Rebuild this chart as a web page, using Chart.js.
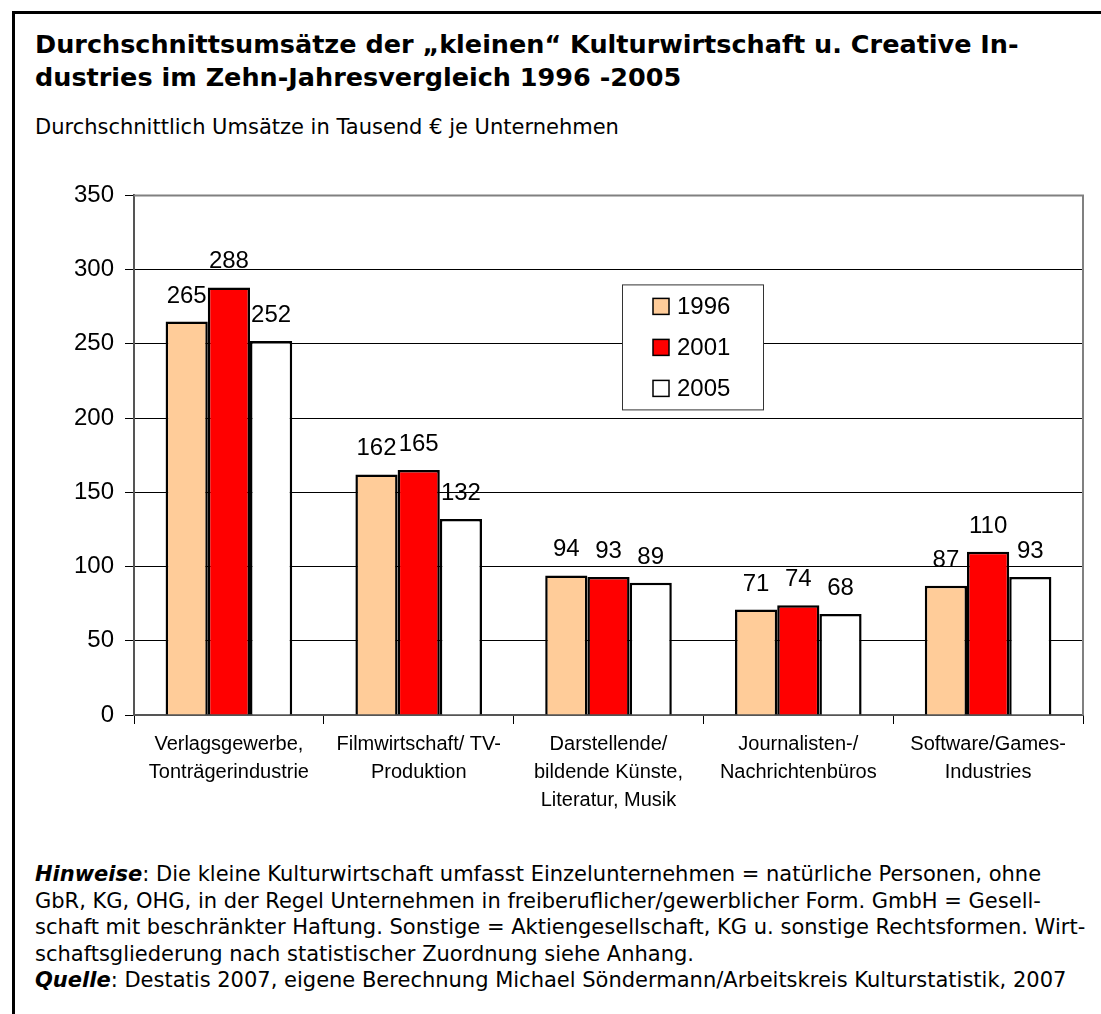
<!DOCTYPE html>
<html lang="de">
<head>
<meta charset="utf-8">
<title>Durchschnittsumsätze Kulturwirtschaft</title>
<script src="https://cdn.jsdelivr.net/npm/chart.js@4/dist/chart.umd.min.js"></script>
<style>
    body { margin: 0; background: #fff; width: 1101px; height: 1014px; overflow: hidden; position: relative; }
    .frame { position: absolute; left: 12px; top: 11px; width: 1200px; height: 1100px; border-top: 3px solid #000; border-left: 3px solid #000; }
    .txt { position: absolute; left: 35px; font-family: "DejaVu Sans", sans-serif; color: #000; white-space: nowrap; }
    #title { top: 28px; font-size: 25.5px; font-weight: bold; line-height: 33px; }
    #subtitle { top: 115px; font-size: 21px; }
    #notes { top: 861px; font-size: 21px; line-height: 26.5px; }
    #chartBox { position: absolute; left: 0; top: 170px; }
</style>
</head>
<body>
<div class="frame"></div>
<div class="txt" id="title">Durchschnittsumsätze der „kleinen“ Kulturwirtschaft u. Creative In-<br>dustries im Zehn-Jahresvergleich 1996 -2005</div>
<div class="txt" id="subtitle">Durchschnittlich Umsätze in Tausend € je Unternehmen</div>
<div id="chartBox"><canvas id="umsatzChart" width="1101" height="655"></canvas></div>
<div class="txt" id="notes">
    <b><i>Hinweise</i></b>: Die kleine Kulturwirtschaft umfasst Einzelunternehmen = natürliche Personen, ohne<br>
    GbR, KG, OHG, in der Regel Unternehmen in freiberuflicher/gewerblicher Form. GmbH = Gesell-<br>
    schaft mit beschränkter Haftung. Sonstige = Aktiengesellschaft, KG u. sonstige Rechtsformen. Wirt-<br>
    schaftsgliederung nach statistischer Zuordnung siehe Anhang.<br>
    <b><i>Quelle</i></b>: Destatis 2007, eigene Berechnung Michael Söndermann/Arbeitskreis Kulturstatistik, 2007
</div>

<script>
// Branchen (x axis)
const categories = [
    ['Verlagsgewerbe,', 'Tonträgerindustrie'],
    ['Filmwirtschaft/ TV-', 'Produktion'],
    ['Darstellende/', 'bildende Künste,', 'Literatur, Musik'],
    ['Journalisten-/', 'Nachrichtenbüros'],
    ['Software/Games-', 'Industries']
];

// Umsätze in Tausend Euro
const years = ['1996', '2001', '2005'];
const values1996 = [265, 162, 94, 71, 87];
const values2001 = [288, 165, 93, 74, 110];
const values2005 = [252, 132, 89, 68, 93];
const yTicks = [0, 50, 100, 150, 200, 250, 300, 350];

const colors = ['#FFCC99', '#FF0000', '#FFFFFF'];
const labelFont = '"Liberation Sans", Arial, sans-serif';

// value labels above each bar
const valueLabels = {
    id: 'valueLabels',
    afterDatasetsDraw: function(chart) {
        const ctx = chart.ctx;
        ctx.save();
        ctx.font = '24px ' + labelFont;
        ctx.fillStyle = '#000';
        ctx.textAlign = 'center';
        ctx.textBaseline = 'alphabetic';
        chart.data.datasets.forEach((ds, i) => {
            chart.getDatasetMeta(i).data.forEach((bar, j) => {
                ctx.fillText(ds.data[j], bar.x, bar.y - 19);
            });
        });
        ctx.restore();
    }
};

// grey frame on top and right of the plot area
const plotFrame = {
    id: 'plotFrame',
    beforeDatasetsDraw: function(chart) {
        const a = chart.chartArea;
        const ctx = chart.ctx;
        ctx.save();
        ctx.strokeStyle = '#808080';
        ctx.lineWidth = 2;
        ctx.beginPath();
        ctx.moveTo(a.left, a.top);
        ctx.lineTo(a.right, a.top);
        ctx.lineTo(a.right, a.bottom);
        ctx.stroke();
        ctx.restore();
    }
};

// boxed legend inside the plot
const boxLegend = {
    id: 'boxLegend',
    afterDatasetsDraw: function(chart) {
        const a = chart.chartArea;
        const ctx = chart.ctx;
        const x = a.left + 488, y = a.top + 89, w = 141, h = 125;
        ctx.save();
        ctx.fillStyle = '#fff';
        ctx.fillRect(x, y, w, h);
        ctx.strokeStyle = '#333';
        ctx.lineWidth = 1;
        ctx.strokeRect(x + 0.5, y + 0.5, w, h);
        ctx.font = '24px ' + labelFont;
        ctx.textBaseline = 'middle';
        ctx.textAlign = 'left';
        chart.data.datasets.forEach((ds, i) => {
            const cy = y + 22 + i * 41;
            ctx.fillStyle = ds.backgroundColor;
            ctx.fillRect(x + 31, cy - 8, 16, 16);
            ctx.strokeStyle = '#000';
            ctx.lineWidth = 1.5;
            ctx.strokeRect(x + 31, cy - 8, 16, 16);
            ctx.fillStyle = '#000';
            ctx.fillText(ds.label, x + 55, cy + 1);
        });
        ctx.restore();
    }
};

const chartPage = {
    init: function() {
        const ctx = document.getElementById('umsatzChart').getContext('2d');
        const series = [values1996, values2001, values2005];

        new Chart(ctx, {
            type: 'bar',
            data: {
                labels: categories,
                datasets: years.map((year, i) => ({
                    label: year,
                    data: series[i],
                    backgroundColor: colors[i],
                    borderColor: '#000',
                    borderWidth: 2.5,
                    categoryPercentage: 0.667,
                    barPercentage: 1.0
                }))
            },
            options: {
                responsive: false,
                animation: false,
                devicePixelRatio: 1,
                layout: { padding: { top: 24, right: 18, left: 0, bottom: 0 } },
                plugins: {
                    legend: { display: false },
                    tooltip: { enabled: false }
                },
                scales: {
                    x: {
                        offset: true,
                        grid: { display: true, drawOnChartArea: false, drawTicks: true, tickLength: 9, color: '#000' },
                        border: { color: '#555', width: 2 },
                        ticks: {
                            color: '#000',
                            maxRotation: 0,
                            autoSkip: false,
                            padding: 6,
                            font: { family: labelFont, size: 20, lineHeight: 1.4 }
                        },
                        afterFit: function(scale) { scale.height = 110; }
                    },
                    y: {
                        min: 0,
                        max: 350,
                        afterBuildTicks: function(scale) {
                            scale.ticks = yTicks.map(v => ({ value: v }));
                        },
                        grid: { color: '#000', lineWidth: 1, tickLength: 9, tickColor: '#000' },
                        border: { color: '#555', width: 2 },
                        ticks: {
                            color: '#000',
                            padding: 11,
                            font: { family: labelFont, size: 24 }
                        },
                        afterFit: function(scale) { scale.width = 134; }
                    }
                }
            },
            plugins: [plotFrame, valueLabels, boxLegend]
        });
    }
};

document.addEventListener('DOMContentLoaded', function() {
    chartPage.init();
});
</script>
</body>
</html>
